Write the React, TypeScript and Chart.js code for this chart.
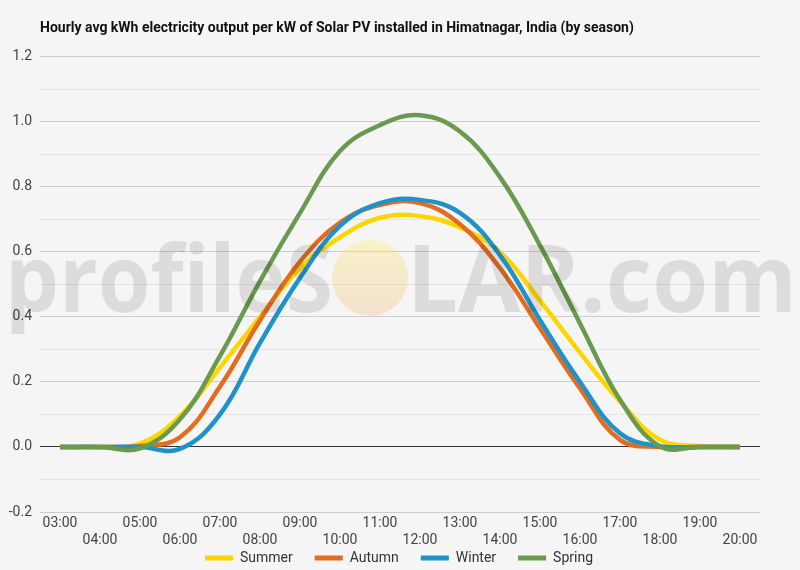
import React, { useRef, useEffect } from 'react';
import Chart from 'chart.js/auto';

const hours = [
  '03:00', '04:00', '05:00', '06:00', '07:00', '08:00', '09:00', '10:00', '11:00',
  '12:00', '13:00', '14:00', '15:00', '16:00', '17:00', '18:00', '19:00', '20:00',
];

const summer = [0, 0, 0.01, 0.095, 0.245, 0.4, 0.55, 0.645, 0.705, 0.71, 0.675, 0.6, 0.45, 0.29, 0.14, 0.022, 0.003, 0];
const autumn = [0, 0, 0.003, 0.03, 0.186, 0.39, 0.57, 0.69, 0.745, 0.75, 0.685, 0.55, 0.365, 0.18, 0.022, 0, 0, 0];
const winter = [0, 0, 0, -0.006, 0.1, 0.32, 0.52, 0.68, 0.75, 0.76, 0.72, 0.59, 0.39, 0.2, 0.042, 0.002, 0, 0];
const spring = [0, 0, -0.004, 0.085, 0.28, 0.51, 0.72, 0.91, 0.99, 1.02, 0.97, 0.83, 0.62, 0.38, 0.145, 0.002, 0, 0];

const seriesNames = ['Summer', 'Autumn', 'Winter', 'Spring'];
const seriesColors = ['#ffd500', '#e36c1e', '#1f93c9', '#6a9a4f'];

const titleText = 'Hourly avg kWh electricity output per kW of Solar PV installed in Himatnagar, India (by season)';

// background fill, the profileSOLAR watermark over the lines, legend nudged into place
const backdrop = {
  id: 'backdrop',
  afterLayout(chart: any) {
    const l = chart.legend;
    if (l) {
      l.top -= 19;
      l.bottom -= 19;
      l.left += 19;
      l.right += 19;
    }
  },
  beforeDraw(chart: any) {
    const ctx = chart.ctx;
    ctx.save();
    ctx.fillStyle = '#f5f5f5';
    ctx.fillRect(0, 0, chart.width, chart.height);
    ctx.restore();
  },
  afterDatasetsDraw(chart: any) {
    const ctx = chart.ctx;
    ctx.save();
    ctx.font = 'bold 94px "Open Sans"';
    ctx.fillStyle = 'rgba(0,0,0,0.1)';
    ctx.textBaseline = 'alphabetic';
    const fit = (text: string, x: number, w: number) => {
      const m = ctx.measureText(text).width;
      ctx.save();
      ctx.translate(x, 312);
      ctx.scale(w / m, 1);
      ctx.fillText(text, 0, 0);
      ctx.restore();
    };
    fit('profileS', 5, 328);
    fit('LAR.com', 407, 390);
    const g = ctx.createLinearGradient(0, 240, 0, 316);
    g.addColorStop(0, 'rgba(255,235,60,0.25)');
    g.addColorStop(1, 'rgba(240,150,60,0.2)');
    ctx.fillStyle = g;
    ctx.beginPath();
    ctx.arc(370, 278, 38, 0, Math.PI * 2);
    ctx.fill();
    ctx.restore();
  },
};

const SolarChart: React.FC = () => {
  const canvasRef = useRef<HTMLCanvasElement | null>(null);

  useEffect(() => {
    if (!canvasRef.current) return;
    const all = [summer, autumn, winter, spring];
    const chart = new Chart(canvasRef.current, {
      type: 'line',
      data: {
        labels: hours,
        datasets: all.map((d, i) => ({
          label: seriesNames[i],
          data: d,
          borderColor: seriesColors[i],
          backgroundColor: seriesColors[i],
          borderWidth: 4.5,
          pointRadius: 0,
          pointHitRadius: 0,
          tension: 0.4,
          fill: false,
          order: all.length - i,
        })),
      },
      options: {
        responsive: false,
        animation: false,
        layout: { padding: { left: 0, right: 40, top: 0, bottom: -24 } },
        scales: {
          x: {
            offset: true,
            grid: { display: false, drawTicks: false },
            border: { display: false },
            ticks: {
              autoSkip: false,
              maxRotation: 0,
              minRotation: 0,
              padding: 3,
              color: '#444',
              font: { family: 'Roboto', size: 14 },
              callback: function (this: any, value: any, index: number) {
                const lab = this.getLabelForValue(value);
                return index % 2 ? ['', lab] : lab;
              },
            },
            afterFit: (scale: any) => {
              scale.height = 36;
            },
          },
          y: {
            min: -0.2,
            max: 1.2,
            border: { display: false },
            grid: {
              drawTicks: false,
              color: (c: any) => {
                const v = c.tick ? c.tick.value : 0;
                const k = Math.round(v * 10);
                if (k === 0) return '#333333';
                return k % 2 === 0 ? '#cccccc' : '#e4e4e4';
              },
            },
            ticks: {
              stepSize: 0.1,
              padding: 8,
              color: '#444',
              font: { family: 'Roboto', size: 14 },
              callback: (value: any) => {
                const k = Math.round(Number(value) * 10);
                return k % 2 === 0 ? (k / 10).toFixed(1) : '';
              },
            },
            afterFit: (scale: any) => {
              scale.width = 40;
            },
          },
        },
        plugins: {
          title: {
            display: true,
            text: titleText,
            align: 'start',
            fullSize: false,
            color: '#111',
            font: { family: 'Roboto', size: 14, weight: 'bold' },
            padding: { top: 20, bottom: 20 },
          },
          legend: {
            position: 'bottom',
            reverse: true,
            labels: {
              boxWidth: 28,
              boxHeight: 5,
              padding: 22,
              color: '#333',
              font: { family: 'Roboto', size: 14 },
              generateLabels: (c: any) =>
                Chart.defaults.plugins.legend.labels.generateLabels(c).map((l: any) => ({ ...l, lineWidth: 0 })),
            },
          },
          tooltip: { enabled: false },
        },
      } as any,
      plugins: [backdrop],
    });
    return () => {
      chart.destroy();
    };
  }, []);

  return <canvas ref={canvasRef} width={800} height={570} />;
};

export default function App() {
  return (
    <div style={{ position: 'fixed', left: 0, top: 0, width: 800, height: 570, background: '#f5f5f5' }}>
      <SolarChart />
    </div>
  );
}
